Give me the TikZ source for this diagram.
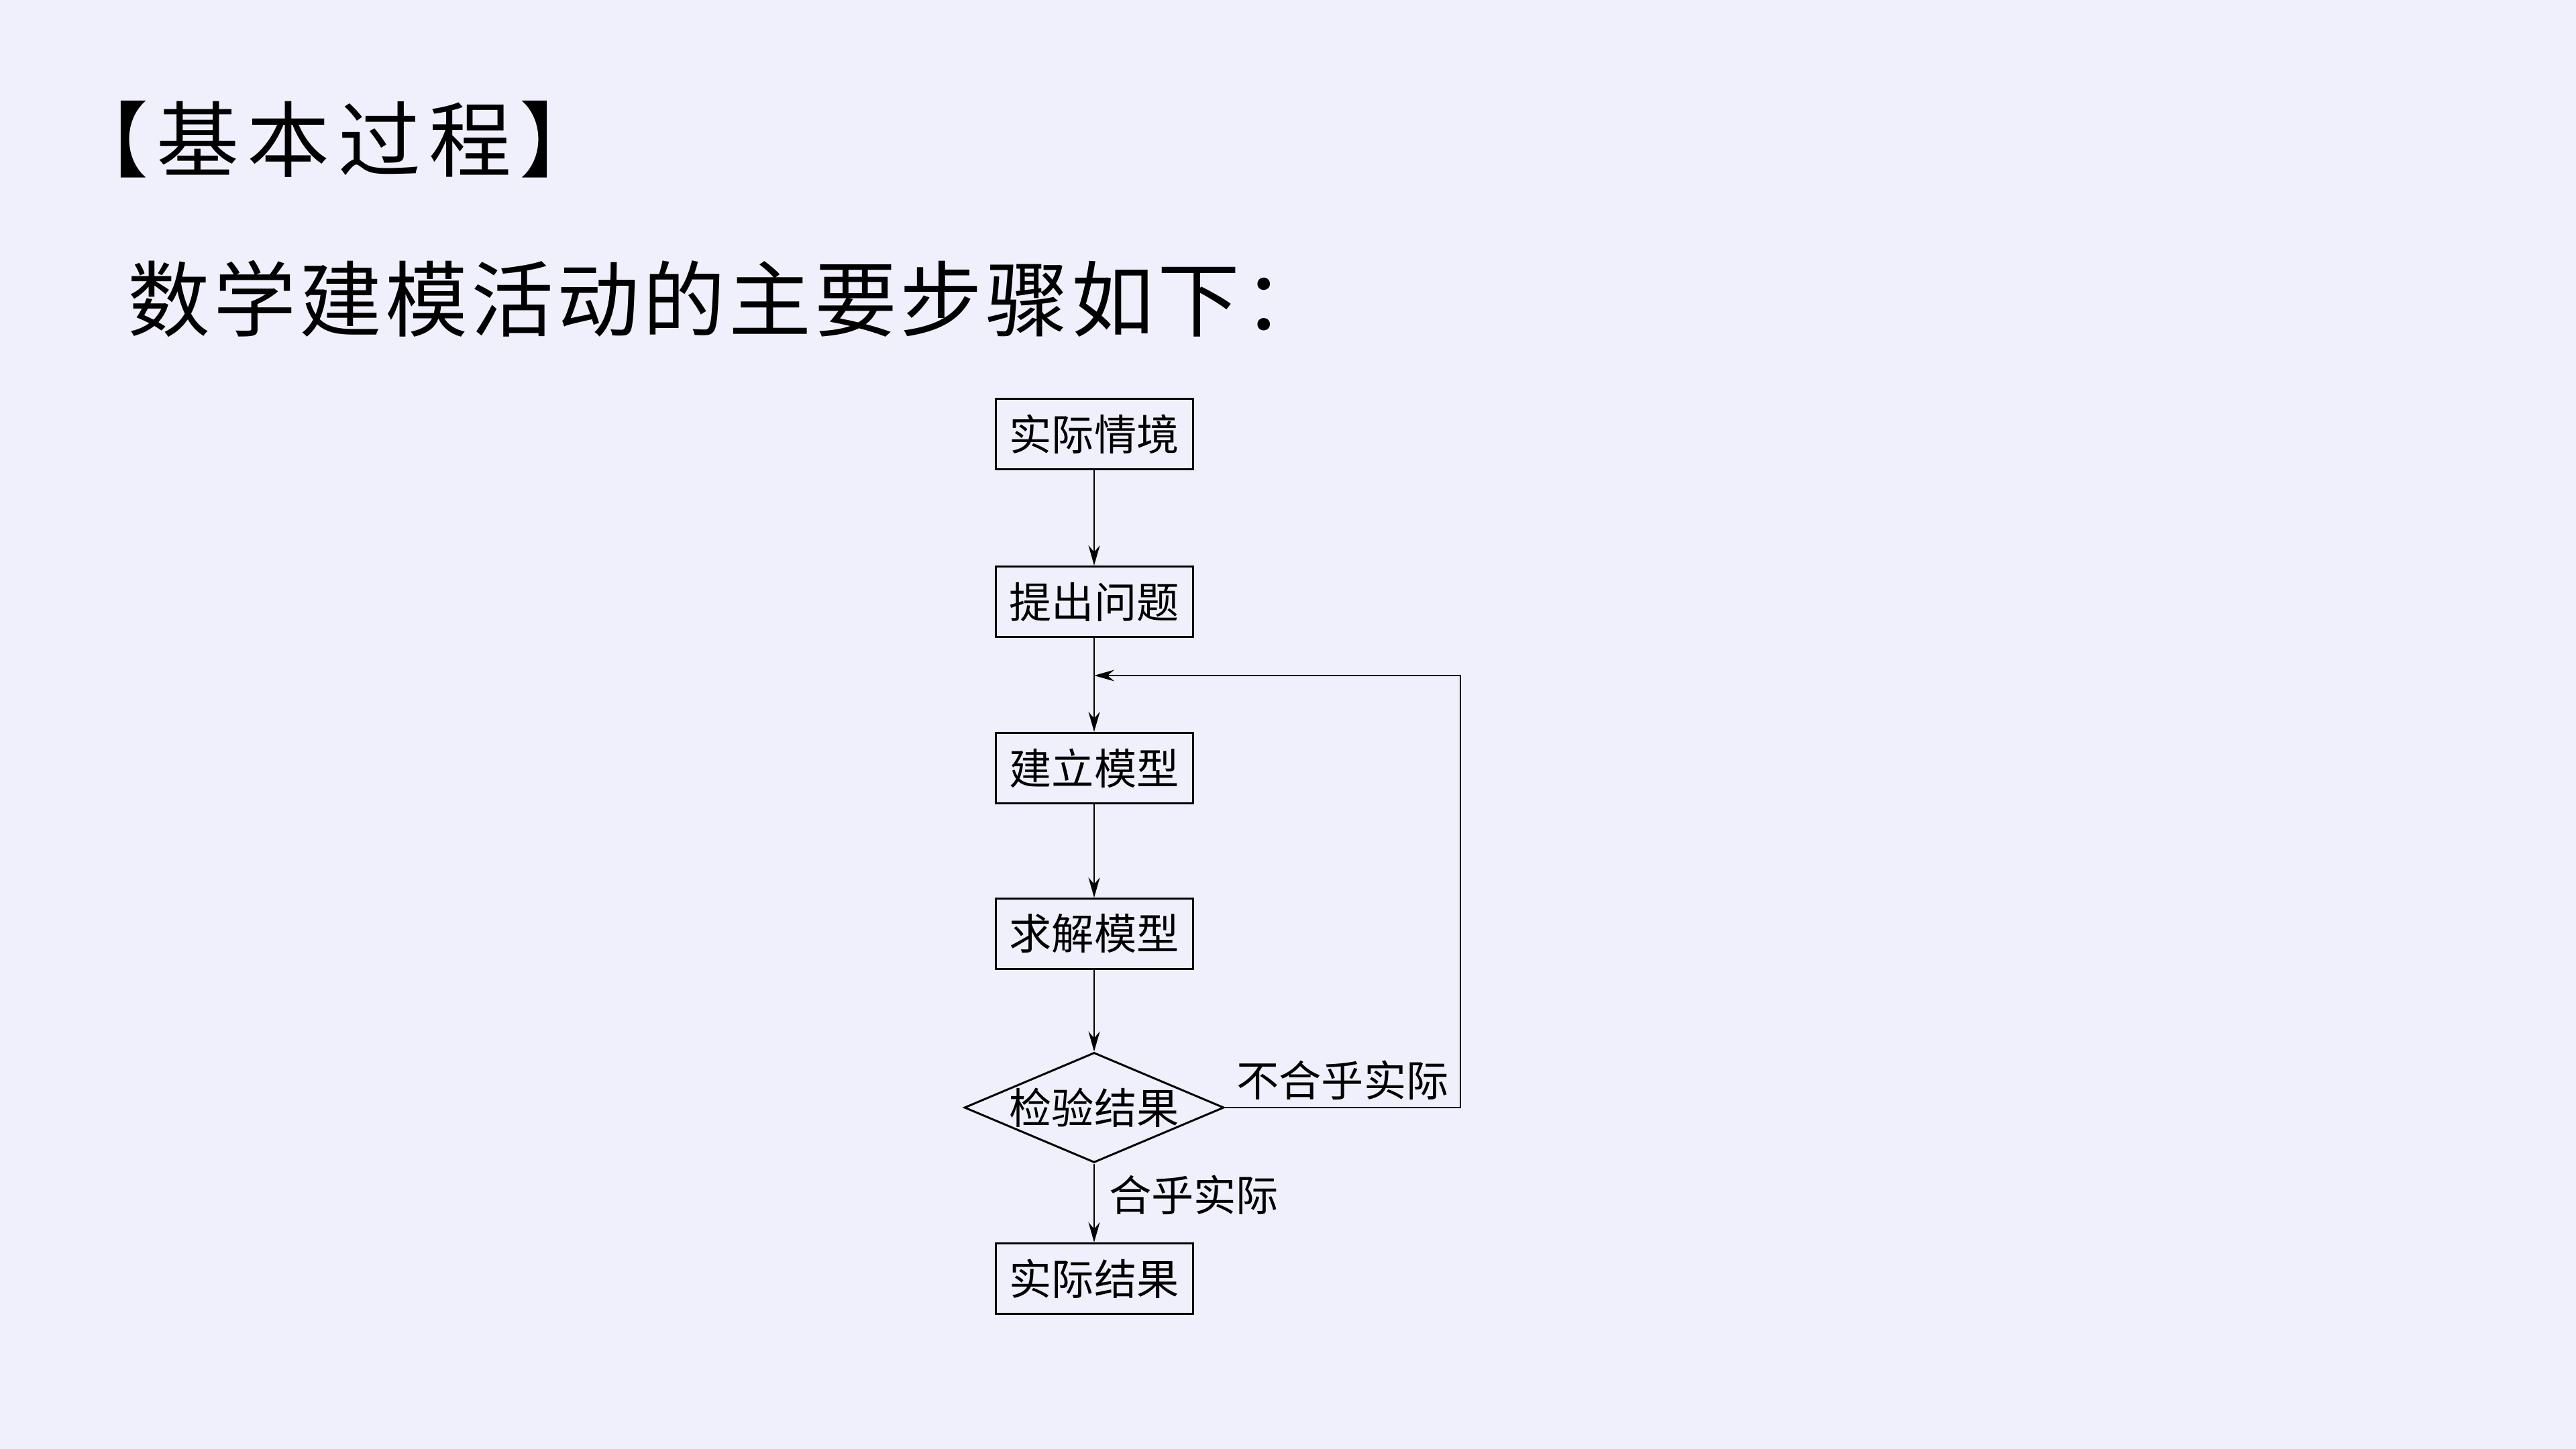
\documentclass[tikz,border=0pt]{standalone}
\usepackage{fontspec}
\setmainfont{Noto Sans CJK SC}
\newfontfamily\titleface{Noto Sans CJK SC}[LetterSpace=10]
\newfontfamily\leadface{Noto Sans CJK SC}[LetterSpace=4]
\usetikzlibrary{shapes.geometric,arrows.meta}
\definecolor{pagebg}{RGB}{240,240,252}
\newcommand{\headfont}{\fontsize{35pt}{40pt}\selectfont}
\newcommand{\stepfont}{\fontsize{18pt}{20pt}\selectfont}

\begin{document}
\begin{tikzpicture}[
  stepbox/.style={draw, line width=0.85pt, minimum width=2.94cm, minimum height=1.05cm,
                  inner sep=0pt, font=\stepfont},
  decision/.style={draw, diamond, line width=0.85pt, minimum width=3.87cm,
                   minimum height=1.64cm, inner sep=0pt},
  arr/.style={-{Stealth[length=3mm,width=1.7mm,inset=1mm]}, line width=0.6pt},
  note/.style={font=\stepfont, inner sep=3pt},
  head/.style={font=\headfont, inner sep=0pt}
]

% Page
\fill[pagebg] (0,0) rectangle (38.4,-21.6);
\useasboundingbox (0,0) rectangle (38.4,-21.6);

% Heading
\node[head] (title) at (4.98,-2.08) {\titleface 【基本过程】};
\node[head, anchor=west] (lead) at (1.9,-4.45) {\leadface 数学建模活动的主要步骤如下：};

% Steps
\node[stepbox] (real) at (16.31,-6.47) {实际情境};
\node[stepbox] (pose) at (16.31,-8.97) {提出问题};
\node[stepbox] (build) at (16.31,-11.45) {建立模型};
\node[stepbox] (solve) at (16.31,-13.92) {求解模型};
\node[decision, label={[font=\stepfont]center:检验结果}] (check) at (16.31,-16.51) {};
\node[stepbox] (result) at (16.31,-19.06) {实际结果};

\coordinate (join) at (16.31,-10.07);
\coordinate (back) at (21.77,-10.07);

\draw[arr] (real) -- (pose);
\draw[arr] (pose) -- (build);
\draw[arr] (build) -- (solve);
\draw[arr] (solve) -- (check);
\draw[arr] (check) -- node[note, right, pos=0.4, inner xsep=6pt] {合乎实际} (result);

% Feedback loop
\draw[arr] (check.east) -| node[note, above, pos=0.25] {不合乎实际} (back) -- (join);

\end{tikzpicture}
\end{document}
